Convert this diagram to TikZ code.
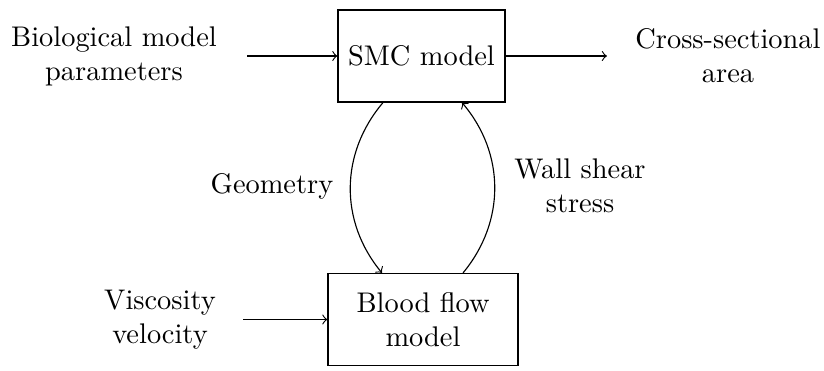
\documentclass[tikz,border=0pt]{standalone}
\begin{document}
\begin{tikzpicture}[x=0.352pt, y=-0.352pt,
  model/.style={draw, align=center, inner sep=0pt},
  label/.style={align=center, inner sep=0pt},
  flow/.style={->}]
  \useasboundingbox (0,0) rectangle (824,370);

  % model boxes
  \node[model, minimum width=167*0.352pt, minimum height=92*0.352pt] (smc) at (421.5,56) {SMC model};
  \node[model, minimum width=190*0.352pt, minimum height=92*0.352pt] (blood) at (423,319.5) {Blood flow\\model};

  % inputs and outputs
  \node[label] (bio) at (114,56) {Biological model\\parameters};
  \node[label] (area) at (728,56) {Cross-sectional\\area};
  \node[label] (visc) at (160,320) {Viscosity\\velocity};
  \node[label] (geom) at (272,186) {Geometry};
  \node[label] (wss) at (580,186) {Wall shear\\stress};

  \coordinate (bioend) at (247,56);
  \coordinate (areaend) at (607,56);
  \coordinate (viscend) at (243,319.5);

  \draw[flow] (bioend) -- (smc.west);
  \draw[flow] (smc.east) -- (areaend);
  \draw[flow] (viscend) -- (blood.west);

  % coupling between the two models
  \draw[flow] ([xshift=-38.5*0.352pt]smc.south) to[bend right=40] ([xshift=-41*0.352pt]blood.north);
  \draw[flow] ([xshift=40*0.352pt]blood.north) to[bend right=40] ([xshift=40.5*0.352pt]smc.south);
\end{tikzpicture}
\end{document}
